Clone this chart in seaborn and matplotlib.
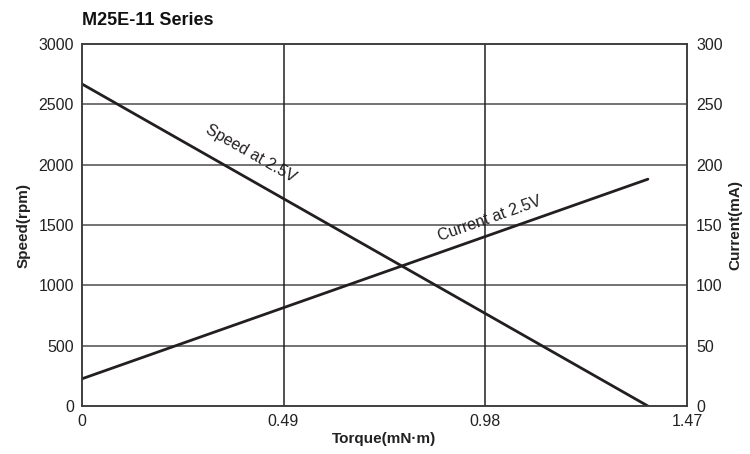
import matplotlib
matplotlib.use("Agg")
import matplotlib.pyplot as plt
import numpy as np
import pandas as pd
import seaborn as sns

# Datos
torque = [0.0, 1.375]
speed = [2670, 0]
current = [22.5, 188]

x_ticks = [0, 0.49, 0.98, 1.47]
x_labels = ["0", "0.49", "0.98", "1.47"]
speed_ticks = [0, 500, 1000, 1500, 2000, 2500, 3000]
current_ticks = [0, 50, 100, 150, 200, 250, 300]

LINE_COLOR = "#231f20"
GRID_COLOR = "#4d4d4d"
TEXT_COLOR = "#222222"

sns.set_theme(style="white")
plt.rcParams['font.family'] = ['Liberation Sans', 'DejaVu Sans']

df = pd.DataFrame({"torque": torque, "speed": speed, "current": current})

fig = plt.figure(figsize=(7.5, 4.54), dpi=100)
ax = fig.add_axes([0.109, 0.1057, 0.807, 0.7973])
ax2 = ax.twinx()

sns.lineplot(data=df, x="torque", y="speed", ax=ax, color=LINE_COLOR, linewidth=2.0)
sns.lineplot(data=df, x="torque", y="current", ax=ax2, color=LINE_COLOR, linewidth=2.0)

ax.set_xlim(0, 1.47)
ax.set_ylim(0, 3000)
ax2.set_ylim(0, 300)

ax.set_xticks(x_ticks)
ax.set_xticklabels(x_labels)
ax.set_yticks(speed_ticks)
ax2.set_yticks(current_ticks)

# Rejilla
for v in speed_ticks[1:-1]:
    ax.axhline(v, color=GRID_COLOR, linewidth=1.1, zorder=0)
for v in x_ticks[1:-1]:
    ax.axvline(v, color="#222222", linewidth=1.1, zorder=0)

ax.tick_params(axis="y", length=0, pad=5.5, labelsize=11.5, colors=TEXT_COLOR)
ax.tick_params(axis="x", length=0, pad=6, labelsize=11.5, colors=TEXT_COLOR)
ax2.tick_params(axis="y", length=0, pad=6.5, labelsize=11.5, colors=TEXT_COLOR)
for a in (ax, ax2):
    for s in a.spines.values():
        s.set_color("#3a3a3a")
        s.set_linewidth(1.1)

ax.set_xlabel("Torque(mN·m)", fontsize=11, fontweight="bold", color=TEXT_COLOR, labelpad=2)
ax.set_ylabel("Speed(rpm)", fontsize=11, fontweight="bold", color=TEXT_COLOR, labelpad=6)
ax2.set_ylabel("Current(mA)", fontsize=11, fontweight="bold", color=TEXT_COLOR, labelpad=4)

fig.text(0.109, 0.955, "M25E-11 Series", fontsize=13, fontweight="bold",
         ha="left", va="center", color="#111111")

# Etiquetas de las curvas, con el angulo en pantalla
fig.canvas.draw()

def screen_angle(a, xs, ys):
    p = a.transData.transform(np.column_stack([xs, ys]))
    return np.degrees(np.arctan2(p[1, 1] - p[0, 1], p[1, 0] - p[0, 0]))

ang_s = screen_angle(ax, torque, speed)
ang_c = screen_angle(ax2, torque, current)

ax.text(0.41, 2090, "Speed at 2.5V", rotation=ang_s, rotation_mode="anchor",
        ha="center", va="center", fontsize=11.5, color=LINE_COLOR)
ax2.text(0.99, 155, "Current at 2.5V", rotation=ang_c, rotation_mode="anchor",
         ha="center", va="center", fontsize=11.5, color=LINE_COLOR)

fig.savefig("out.png", dpi=100)
